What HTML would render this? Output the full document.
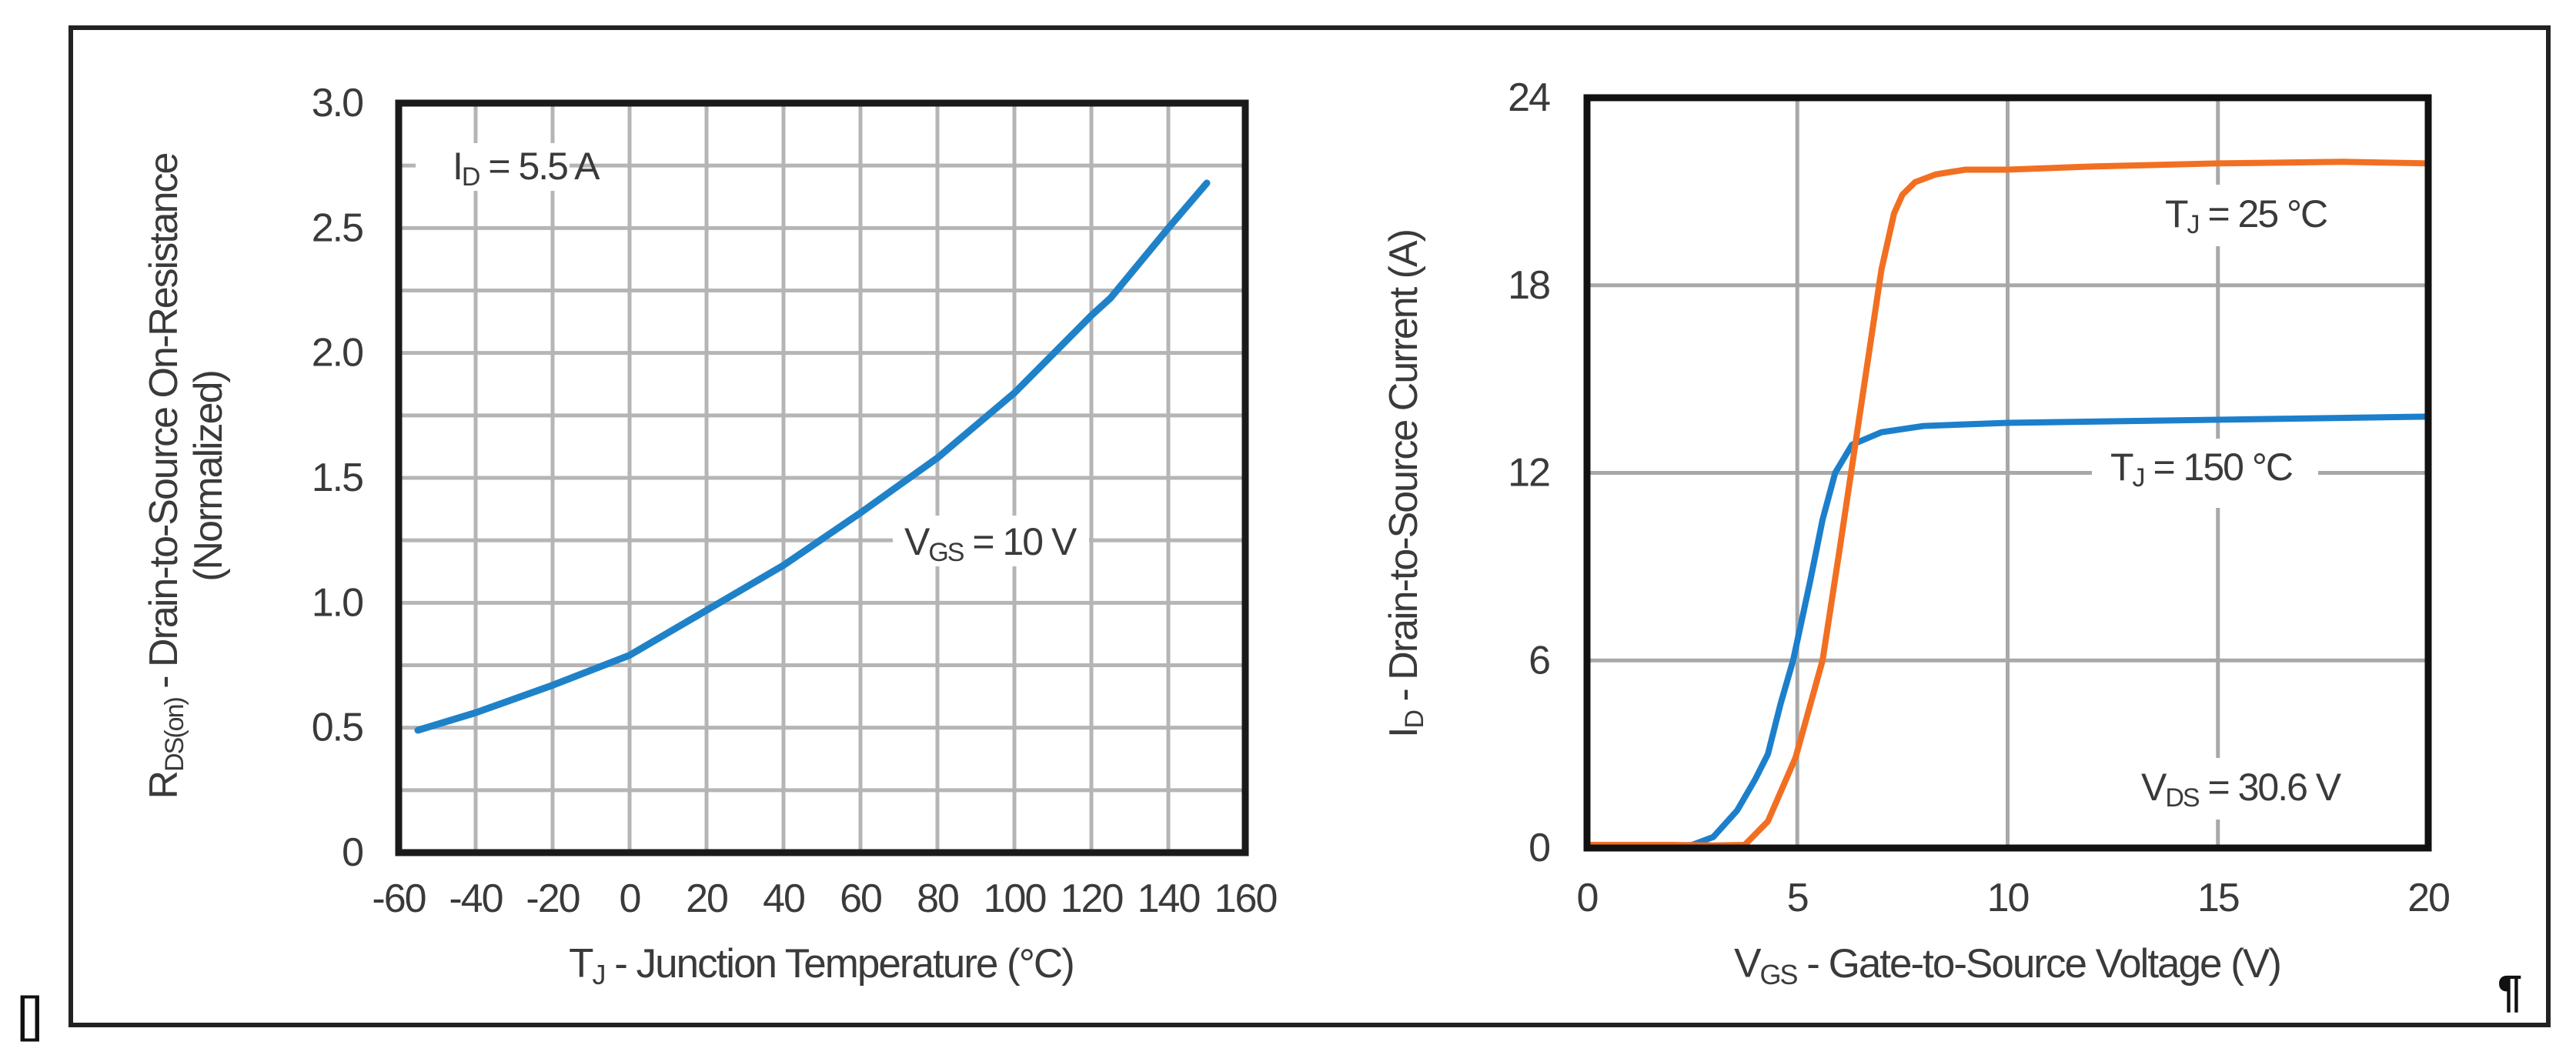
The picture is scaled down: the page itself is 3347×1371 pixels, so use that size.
<!DOCTYPE html>
<html><head><meta charset="utf-8">
<style>
html,body{margin:0;padding:0;background:#fff;}
svg{display:block;}
text{font-family:"Liberation Sans",Arial,sans-serif;fill:#3a3a3a;letter-spacing:-2px;}
</style></head>
<body>
<svg id="root" width="3347" height="1371" viewBox="0 0 3347 1371" xmlns="http://www.w3.org/2000/svg">
  <rect x="0" y="0" width="3347" height="1371" fill="#fff"/>
  <rect x="92" y="36" width="3219" height="1296" fill="none" stroke="#222" stroke-width="6"/>
  <text x="22" y="1340" font-size="64" style="fill:#111">[]</text>
  <text x="3245" y="1308" font-size="58" font-weight="bold" style="fill:#111">¶</text>
  <g id="left"></g>
  <g id="right"></g>
</svg>
<script>
// ---- Left chart data ----
const leftXTicks = [-60,-40,-20,0,20,40,60,80,100,120,140,160];
const leftYTicks = [0,0.5,1.0,1.5,2.0,2.5,3.0];
const leftYTickLabels = ["0","0.5","1.0","1.5","2.0","2.5","3.0"];
const leftTemp = [-55,-40,-20,0,20,40,60,80,100,120,125,140,150];
const leftRds = [0.49,0.56,0.67,0.79,0.97,1.15,1.36,1.58,1.84,2.15,2.22,2.50,2.68];

// ---- Right chart data ----
const rightXTicks = [0,5,10,15,20];
const rightYTicks = [0,6,12,18,24];
const vgs25 = [0,2,3.0,3.75,4.3,4.96,5.6,6.0,6.5,7.0,7.3,7.5,7.8,8.3,9.0,10,12,15,18,20];
const id25 = [0.1,0.1,0.08,0.1,0.85,2.9,6.0,9.5,14,18.5,20.3,20.9,21.3,21.55,21.7,21.7,21.8,21.9,21.95,21.9];
const vgs150 = [0,2.0,2.5,3.0,3.57,4.0,4.3,4.6,4.9,5.3,5.6,5.9,6.3,7.0,8.0,10,15,20];
const id150 = [0.05,0.05,0.1,0.35,1.2,2.2,3.0,4.6,6.0,8.5,10.5,12.0,12.9,13.3,13.5,13.6,13.7,13.8];

const NS = "http://www.w3.org/2000/svg";
function mk(parent, tag, attrs){
  const e = document.createElementNS(NS, tag);
  for (const k in attrs) e.setAttribute(k, attrs[k]);
  parent.appendChild(e);
  return e;
}
function txt(parent, x, y, s, size, anchor){
  const t = mk(parent, "text", {x:x, y:y, "font-size":size, "text-anchor":anchor||"middle", "dominant-baseline":"central"});
  t.textContent = s;
  return t;
}

// ===== LEFT =====
(function(){
  const g = document.getElementById("left");
  const L=518, R=1618, T=134, B=1108;
  const xs = v => L + (v - (-60)) / 220 * (R-L);
  const ys = v => B - v / 3 * (B-T);
  for (let v=-40; v<160; v+=20){
    const l = mk(g,"line",{x1:xs(v),x2:xs(v),y1:T,y2:B,stroke:"#b5b5b5","stroke-width":5});
    
    
  }
  for (let i=1;i<12;i++){
    const v=i*0.25;
    const l = mk(g,"line",{x1:L,x2:R,y1:ys(v),y2:ys(v),stroke:"#b5b5b5","stroke-width":5});
    
    
  }
  const bg1 = mk(g,"rect",{x:540,y:186,width:200,height:62,fill:"#fff"});
  
  
  const bg2 = mk(g,"rect",{x:1160,y:670,width:255,height:66,fill:"#fff"});
  
  
  const pts = leftTemp.map((t,i)=>xs(t)+","+ys(leftRds[i])).join(" ");
  const c = mk(g,"polyline",{points:pts,fill:"none",stroke:"#1f82c8","stroke-width":9,"stroke-linejoin":"round","stroke-linecap":"round"});
  
  
  const f = mk(g,"rect",{x:L,y:T,width:R-L,height:B-T,fill:"none",stroke:"#1a1a1a","stroke-width":9});
  
  
  leftXTicks.forEach(v=>{
    const t = txt(g, xs(v), 1168, String(v), 52);
    
    
  });
  leftYTicks.forEach((v,i)=>{
    const t = txt(g, 471, ys(v), leftYTickLabels[i], 52, "end");
    
    
  });
  const a1 = mk(g,"text",{x:588,y:216,"font-size":50,"dominant-baseline":"central"});
  a1.innerHTML = 'I<tspan font-size="34" dy="14">D</tspan><tspan dy="-14"> = 5.5 A</tspan>';
  
  
  const a2 = mk(g,"text",{x:1175,y:704,"font-size":50,"dominant-baseline":"central"});
  a2.innerHTML = 'V<tspan font-size="34" dy="14">GS</tspan><tspan dy="-14"> = 10 V</tspan>';
  
  
  const xt = mk(g,"text",{x:1067,y:1252,"font-size":53,"text-anchor":"middle","dominant-baseline":"central"});
  xt.innerHTML = 'T<tspan font-size="36" dy="14">J</tspan><tspan dy="-14"> - Junction Temperature (°C)</tspan>';
  
  
  const yt = mk(g,"text",{x:0,y:0,"font-size":52,"text-anchor":"middle","dominant-baseline":"central",transform:"translate(213,619) rotate(-90)"});
  yt.innerHTML = 'R<tspan font-size="34" dy="14">DS(on)</tspan><tspan dy="-14"> - Drain-to-Source On-Resistance</tspan>';
  
  
  const yt2 = txt(g,0,0,"(Normalized)",52);
  yt2.setAttribute("transform","translate(271,619) rotate(-90)");
  
  
})();

// ===== RIGHT =====
(function(){
  const g = document.getElementById("right");
  const L=2062, R=3155, T=127, B=1102;
  const xs = v => L + v/20*(R-L);
  const ys = v => B - v/24*(B-T);
  for (let v=5; v<20; v+=5){
    const l = mk(g,"line",{x1:xs(v),x2:xs(v),y1:T,y2:B,stroke:"#a8a8a8","stroke-width":5});
    
    
  }
  for (let v=6; v<24; v+=6){
    const l = mk(g,"line",{x1:L,x2:R,y1:ys(v),y2:ys(v),stroke:"#a8a8a8","stroke-width":5});
    
    
  }
  const bgs = [[2800,240,240,80],[2718,570,294,90],[2770,985,285,80]];
  bgs.forEach(b=>{
    const r = mk(g,"rect",{x:b[0],y:b[1],width:b[2],height:b[3],fill:"#fff"});
    
    
  });
  const p150 = vgs150.map((v,i)=>xs(v)+","+ys(id150[i])).join(" ");
  const c1 = mk(g,"polyline",{points:p150,fill:"none",stroke:"#1c7fcc","stroke-width":8,"stroke-linejoin":"round"});
  
  
  const p25 = vgs25.map((v,i)=>xs(v)+","+ys(id25[i])).join(" ");
  const c2 = mk(g,"polyline",{points:p25,fill:"none",stroke:"#f26f22","stroke-width":8,"stroke-linejoin":"round"});
  
  
  const f = mk(g,"rect",{x:L,y:T,width:R-L,height:B-T,fill:"none",stroke:"#111","stroke-width":9});
  
  
  rightXTicks.forEach(v=>{
    const t = txt(g, xs(v), 1167, String(v), 52);
    
    
  });
  rightYTicks.forEach(v=>{
    const t = txt(g, 2013, ys(v), String(v), 52, "end");
    
    
  });
  const a1 = mk(g,"text",{x:2813,y:278,"font-size":50,"dominant-baseline":"central"});
  a1.innerHTML = 'T<tspan font-size="34" dy="14">J</tspan><tspan dy="-14"> = 25 °C</tspan>';
  
  
  const a2 = mk(g,"text",{x:2742,y:607,"font-size":50,"dominant-baseline":"central"});
  a2.innerHTML = 'T<tspan font-size="34" dy="14">J</tspan><tspan dy="-14"> = 150 °C</tspan>';
  
  
  const a3 = mk(g,"text",{x:2782,y:1023,"font-size":50,"dominant-baseline":"central"});
  a3.innerHTML = 'V<tspan font-size="34" dy="14">DS</tspan><tspan dy="-14"> = 30.6 V</tspan>';
  
  
  const xt = mk(g,"text",{x:2608,y:1252,"font-size":53,"text-anchor":"middle","dominant-baseline":"central"});
  xt.innerHTML = 'V<tspan font-size="36" dy="14">GS</tspan><tspan dy="-14"> - Gate-to-Source Voltage (V)</tspan>';
  
  
  const yt = mk(g,"text",{x:0,y:0,"font-size":52,"text-anchor":"middle","dominant-baseline":"central",transform:"translate(1824,629) rotate(-90)"});
  yt.innerHTML = 'I<tspan font-size="34" dy="14">D</tspan><tspan dy="-14"> - Drain-to-Source Current (A)</tspan>';
  
  
})();
</script>
</body></html>
